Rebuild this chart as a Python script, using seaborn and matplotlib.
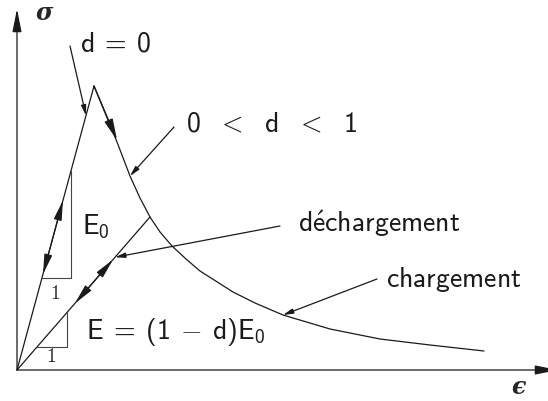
import matplotlib
matplotlib.use('Agg')

import numpy as np
import matplotlib.pyplot as plt
import seaborn as sns

# diagram units: strain on x, stress on y, origin of the diagram at (0, 0)
eps_peak = 77
sig_peak = 284

# softening branch (chargement)
eps_soft = [77, 100, 113, 123, 133, 143, 155, 169, 183, 216, 238, 266, 313, 363, 413, 467]
sig_soft = [284, 228, 194, 172, 153, 138, 124, 111, 99, 78, 67, 55, 41, 31, 25, 19]

# point of the softening branch where unloading starts
eps_unload = 133
sig_unload = 153

# ends of the axes arrows
eps_axis_end = 541
sig_axis_end = 361

# slope triangles (base start, base end) on the E0 and E lines
tri_E0 = [25, 54]
tri_E = [20, 50]

# double arrow tips along the elastic lines (strain values)
dbl_E0 = [26, 46]
dbl_E = [58, 96]

# label pointers: (start eps, start sig, tip eps)
ptr_d0 = (53, 324, 69)
ptr_dmid = (157, 243, 113)
ptr_dech = (263, 144, 98)
ptr_charg = (360, 91, 266)

sns.set_theme(style='white')
# computer modern sans for letters and digits, cmmi10 for the "<" sign
plt.rcParams['mathtext.fontset'] = 'custom'
plt.rcParams['mathtext.rm'] = 'cmss10'
plt.rcParams['mathtext.it'] = 'cmss10'
plt.rcParams['mathtext.sf'] = 'cmss10'
plt.rcParams['mathtext.cal'] = 'cmmi10'
plt.rcParams['mathtext.fallback'] = 'cm'

fig = plt.figure(figsize=(5.48, 4.02), dpi=100)
ax = fig.add_axes([0, 0, 1, 1])
ax.set_xlim(-17, 531)
ax.set_ylim(-31, 371)
ax.axis('off')

lw = 0.9
E0 = sig_peak / eps_peak
E = sig_unload / eps_unload


def arrow(x0, y0, x1, y1, style, color='k'):
    ax.annotate('', xy=(x1, y1), xytext=(x0, y0), annotation_clip=False,
                arrowprops=dict(arrowstyle=style, lw=lw, color=color,
                                shrinkA=0, shrinkB=0, mutation_scale=10))


# axes
arrow(0, 0, eps_axis_end, 0, '-|>,head_length=1.4,head_width=0.28')
arrow(0, 0, 0, sig_axis_end, '-|>,head_length=1.4,head_width=0.28')

# elastic loading line up to the peak
ax.plot([0, eps_peak], [0, sig_peak], color='k', lw=lw)
# softening branch
sns.lineplot(x=eps_soft, y=sig_soft, sort=False, estimator=None,
             color='k', lw=lw, ax=ax)
# unloading line
ax.plot([0, eps_unload], [0, sig_unload], color='k', lw=lw)

# slope triangles
for (a, b), k in [(tri_E0, E0), (tri_E, E)]:
    ax.plot([a, b, b], [a * k, a * k, b * k], color='#444444', lw=0.8)

# arrows along the paths
arrow(eps_peak, sig_peak, eps_soft[1], sig_soft[1] + 2, '-|>,head_length=1.3,head_width=0.27')
arrow(dbl_E0[0], dbl_E0[0] * E0, dbl_E0[1], dbl_E0[1] * E0, '<|-|>,head_length=1.2,head_width=0.24')
arrow(dbl_E[0], dbl_E[0] * E, dbl_E[1], dbl_E[1] * E, '<|-|>,head_length=1.2,head_width=0.24')

# label pointers
ps = '-|>,head_length=0.6,head_width=0.15'
arrow(ptr_d0[0], ptr_d0[1], ptr_d0[2], ptr_d0[2] * E0, ps)
arrow(ptr_dmid[0], ptr_dmid[1], ptr_dmid[2], np.interp(ptr_dmid[2], eps_soft, sig_soft), ps)
arrow(ptr_dech[0], ptr_dech[1], ptr_dech[2], ptr_dech[2] * E, ps)
arrow(ptr_charg[0], ptr_charg[1], ptr_charg[2], np.interp(ptr_charg[2], eps_soft, sig_soft), ps)

# labels
fs = 20
kw = dict(fontsize=fs, ha='left', va='baseline', color='k')
ax.text(63, 319, r'$d\;=\;0$', **kw)
ax.text(169, 239, r'$0\enspace\;\mathcal{<}\enspace\; d\enspace\;\mathcal{<}\enspace\; 1$', **kw)
ax.text(65, 137, r'$E_0$', **kw)
ax.text(281, 139, r'$d\acute{e}chargement$', **kw)
ax.text(369, 84, r'$chargement$', **kw)
ax.text(69, 32, r'$E\;=\;(1\;-\;d)E_0$', **kw)
ax.text(38, 77, '1', fontsize=14, ha='center', va='center', family='cmr10')
ax.text(34, 14, '1', fontsize=14, ha='center', va='center', family='cmr10')

ax.text(27, 358, 'σ', fontsize=17, ha='center', va='center',
        family='DejaVu Serif', weight='bold', style='italic')
ax.text(501, -16, 'ϵ', fontsize=17, ha='center', va='center',
        family='DejaVu Serif', weight='bold', style='italic')

fig.savefig('out.png', dpi=100)
